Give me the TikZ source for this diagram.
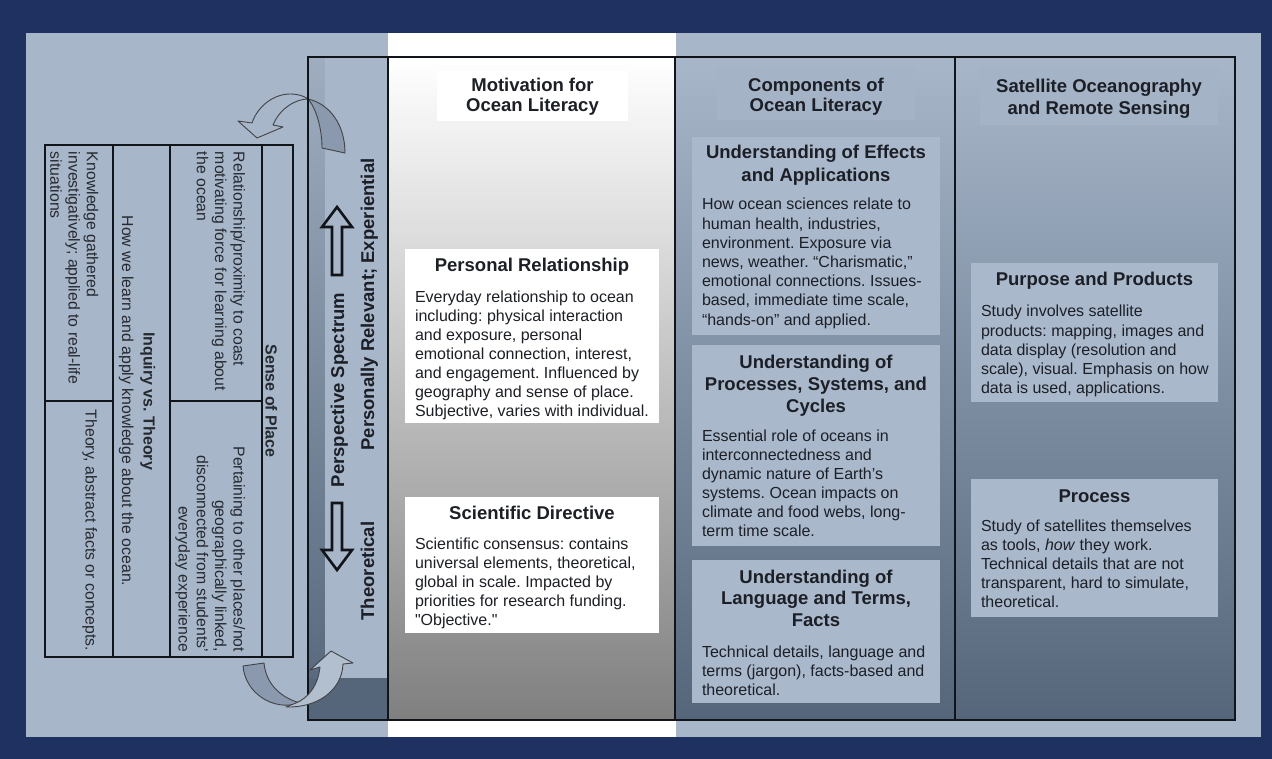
\documentclass[tikz,border=0pt]{standalone}
\usepackage{fontspec}
\setmainfont{Liberation Sans}
\definecolor{navy}{HTML}{1E3160}
\definecolor{panel}{HTML}{A7B6C9}
\definecolor{boxfill}{HTML}{A9B8CB}
\definecolor{headfill}{HTML}{A4B3C6}
\definecolor{deep}{HTML}{55667B}
\definecolor{midblue}{HTML}{8A99AD}
\definecolor{frame}{HTML}{111418}
\definecolor{ink}{HTML}{1C1F26}
\definecolor{greyink}{HTML}{262A30}
\definecolor{arrowdark}{HTML}{8A99AD}
\definecolor{arrowlight}{HTML}{B2BFCF}
\begin{document}
\frenchspacing
% multi-line nodes below are anchored on the baseline of their last line
\begin{tikzpicture}[x=1pt,y=-1pt,
  every node/.style={inner sep=0pt, outer sep=0pt},
  wbox/.style={fill=white, anchor=north west},
  bbox/.style={fill=boxfill, anchor=north west},
  hbox/.style={fill=headfill, anchor=north west},
  ttl/.style={font=\fontsize{18.5}{22}\selectfont\bfseries, align=center, text=ink},
  body/.style={font=\fontsize{16}{19.1}\selectfont, align=left, text=ink},
  vlabel/.style={font=\fontsize{18.5}{22}\selectfont\bfseries, rotate=90, text=ink},
  tbl/.style={font=\fontsize{15.8}{18.3}\selectfont, rotate=-90, text=greyink},
  tblhead/.style={font=\fontsize{16}{18.3}\selectfont\bfseries, rotate=-90, text=greyink},
  blockarrow/.style={draw=frame, line width=2.6pt, fill=panel, line join=miter},
  bendarrow/.style={draw=frame!80, line width=0.9pt, line join=round},
]
\useasboundingbox (0,0) rectangle (1272,759);

% backdrop
\fill[navy] (0,0) rectangle (1272,759);
\fill[panel] (26,33) rectangle (1261,737);
\fill[white] (388,33) rectangle (676,737);

% column backgrounds
\shade[top color=panel!95!black, bottom color=deep] (308,57) rectangle (388,720);
\fill[panel] (325,57) rectangle (388,678);
\fill[deep] (308,678) rectangle (388,720);
\shade[top color=white, middle color=black!21, bottom color=black!50] (388,57) rectangle (675,720);
\shade[top color=panel, middle color=midblue, bottom color=deep] (675,57) rectangle (955,720);
\shade[top color=panel, middle color=midblue, bottom color=deep] (955,57) rectangle (1235,720);

% curved arrow leaving the spectrum at the top
\path[bendarrow, fill=panel] (252,123) .. controls (258,105) and (275,94) .. (290,94)
  .. controls (298,94) and (304,96) .. (308,99)
  .. controls (296,99) and (280,108) .. (273,125)
  -- (283,127) -- (257,138) -- (238,121) -- cycle;
\path[bendarrow, fill=arrowdark] (308,99) .. controls (330,104) and (345,125) .. (345,153)
  -- (322,148) .. controls (322,128) and (316,108) .. (308,99) -- cycle;

% frame and column rules
\draw[frame, line width=2.8pt] (308,57) rectangle (1235,720);
\foreach \xx in {388,675,955} \draw[frame, line width=2.5pt] (\xx,57) -- (\xx,720);

% curved arrow returning at the bottom
\path[bendarrow, fill=arrowdark] (243,666) .. controls (245,692) and (272,712) .. (300,703)
  .. controls (282,698) and (266,685) .. (264,663) -- cycle;
\path[bendarrow, fill=arrowlight] (286,707) .. controls (318,708) and (342,690) .. (343,664)
  -- (353,663) -- (331,651) -- (310,670) -- (320,667)
  .. controls (318,686) and (308,698) .. (296,703) -- cycle;

% perspective spectrum
\node[vlabel, anchor=base] (persp) at (344,390) {Perspective Spectrum};
\node[vlabel, anchor=base] (relev) at (374,304.5) {Personally Relevant; Experiential};
\node[vlabel, anchor=base] (theo) at (374,571) {Theoretical};
\draw[blockarrow] (332,275) -- (332,227) -- (322,227) -- (337,207) -- (352,227) -- (342,227) -- (342,275) -- cycle;
\draw[blockarrow] (332,503) -- (332,550) -- (322,550) -- (337,570) -- (352,550) -- (342,550) -- (342,503) -- cycle;

% motivation column
\node[wbox, minimum width=191, minimum height=50] (motbox) at (437,71) {};
\node[ttl, anchor=base, font=\fontsize{18.5}{20}\selectfont\bfseries] (mott) at (532.5,112) {Motivation for\\Ocean Literacy};
\node[wbox, minimum width=254, minimum height=174] (prbox) at (405,249) {};
\node[ttl, anchor=base] (prt) at (532,272) {Personal Relationship};
\node[body, anchor=base west] (prb) at (415,416.6) {Everyday relationship to ocean\\including: physical interaction\\and exposure, personal\\emotional connection, interest,\\and engagement. Influenced by\\geography and sense of place.\\Subjective, varies with individual.};
\node[wbox, minimum width=254, minimum height=136] (sdbox) at (405,497) {};
\node[ttl, anchor=base] (sdt) at (532,519) {Scientific Directive};
\node[body, anchor=base west, font=\fontsize{16}{19.2}\selectfont] (sdb) at (415,625.8) {Scientific consensus: contains\\universal elements, theoretical,\\global in scale. Impacted by\\priorities for research funding.\\\textquotedbl Objective.\textquotedbl};

% components column
\node[hbox, minimum width=198, minimum height=53] (compbox) at (717,67) {};
\node[ttl, anchor=base, font=\fontsize{18.5}{20}\selectfont\bfseries] (compt) at (816,112) {Components of\\Ocean Literacy};
\node[bbox, minimum width=248, minimum height=198] (efbox) at (692,137) {};
\node[ttl, anchor=base, font=\fontsize{18.5}{22.5}\selectfont\bfseries] (eft) at (816,181.5) {Understanding of Effects\\and Applications};
\node[body, anchor=base west, font=\fontsize{16}{19.2}\selectfont] (efb) at (702,325.2) {How ocean sciences relate to\\human health, industries,\\environment. Exposure via\\news, weather. “Charismatic,”\\emotional connections. Issues-\\based, immediate time scale,\\“hands-on” and applied.};
\node[bbox, minimum width=248, minimum height=201] (psbox) at (692,345) {};
\node[ttl, anchor=base] (pst) at (816,412) {Understanding of\\Processes, Systems, and\\Cycles};
\node[body, anchor=base west] (psb) at (702,536.5) {Essential role of oceans in\\interconnectedness and\\dynamic nature of Earth’s\\systems. Ocean impacts on\\climate and food webs, long-\\term time scale.};
\node[bbox, minimum width=248, minimum height=143] (lgbox) at (692,560) {};
\node[ttl, anchor=base, font=\fontsize{18.5}{21.7}\selectfont\bfseries] (lgt) at (816,626.4) {Understanding of\\Language and Terms,\\Facts};
\node[body, anchor=base west] (lgb) at (702,695.2) {Technical details, language and\\terms (jargon), facts-based and\\theoretical.};

% satellite column
\node[hbox, minimum width=238, minimum height=58] (satbox) at (980,67) {};
\node[ttl, anchor=base] (satt) at (1099,115) {Satellite Oceanography\\and Remote Sensing};
\node[bbox, minimum width=247, minimum height=139] (ppbox) at (971,263) {};
\node[ttl, anchor=base] (ppt) at (1094.5,286) {Purpose and Products};
\node[body, anchor=base west] (ppb) at (981,393.4) {Study involves satellite\\products: mapping, images and\\data display (resolution and\\scale), visual. Emphasis on how\\data is used, applications.};
\node[bbox, minimum width=247, minimum height=138] (prcbox) at (971,479) {};
\node[ttl, anchor=base] (prct) at (1094.5,502) {Process};
\node[body, anchor=base west] (prcb) at (981,607.9) {Study of satellites themselves\\as tools, \textit{how} they work.\\Technical details that are not\\transparent, hard to simulate,\\theoretical.};

% sense of place / inquiry table
\draw[frame, line width=2.6pt] (45,145) rectangle (293,657);
\foreach \xx in {113,170,262} \draw[frame, line width=1.6pt] (\xx,145) -- (\xx,657);
\draw[frame, line width=1.6pt] (45,401) -- (113,401);
\draw[frame, line width=1.6pt] (170,401) -- (262,401);
\node[tblhead, anchor=base] (sop) at (265.5,401) {Sense of Place};
\node[tbl, anchor=base west, align=left] (near) at (196.9,152) {Relationship/proximity to coast\\motivating force for learning about\\the ocean};
\node[tbl, anchor=base east, align=right] (far) at (178.6,652) {Pertaining to other places/not\\geographically linked,\\disconnected from students’\\everyday experience};
\node[tblhead, anchor=base] (ivt) at (143.5,401) {Inquiry vs. Theory};
\node[tbl, anchor=base] (how) at (122,401) {How we learn and apply knowledge about the ocean.};
\node[tbl, anchor=base west, align=left] (inq) at (50.4,152) {Knowledge gathered\\investigatively; applied to real-life\\situations};
\node[tbl, anchor=base east, align=right] (thy) at (85.5,651) {Theory, abstract facts or concepts.};
\end{tikzpicture}
\end{document}
